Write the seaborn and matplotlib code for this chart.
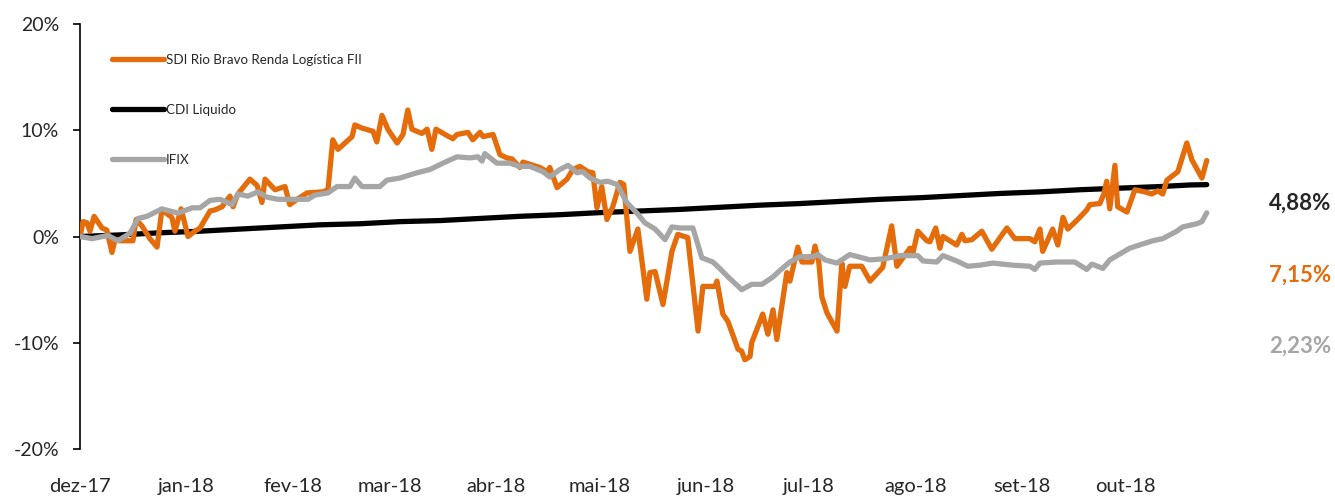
import pandas as pd
import matplotlib.pyplot as plt
import seaborn as sns
from matplotlib.lines import Line2D

start = pd.Timestamp("2017-12-01")

# SDI Rio Bravo Renda Logística FII (days since start, % return)
sdi_days = [0.0, 0.9, 2.0, 2.9, 4.1, 6.4, 7.8, 9.3, 10.2, 11.6, 15.4, 16.3, 18.0, 20.3, 22.4,
            23.8, 26.7, 27.6, 29.4, 31.4, 33.4, 34.9, 37.8, 39.2, 41.3, 43.6, 44.5, 45.9, 49.4,
            51.5, 52.9, 53.8, 56.7, 59.6, 61.0, 63.1, 66.0, 70.6, 72.1, 73.5, 75.0, 79.1, 79.9,
            82.0, 85.2, 86.3, 87.8, 89.5, 92.2, 93.9, 95.3, 96.5, 99.4, 100.9, 102.3, 103.5,
            106.7, 108.4, 109.6, 112.8, 114.2, 116.3, 117.2, 120.1, 122.1, 124.1, 125.6, 127.9,
            128.8, 130.8, 133.7, 135.8, 136.6, 138.7, 141.6, 143.3, 145.3, 147.7, 149.1, 150.3,
            151.7, 153.2, 154.9, 157.0, 158.1, 159.9, 162.2, 164.8, 165.7, 167.2, 169.5, 172.1,
            173.8, 176.7, 179.7, 181.1, 184.6, 185.2, 186.9, 188.4, 191.3, 192.4, 193.3, 194.8,
            195.3, 198.5, 200.0, 201.5, 202.6, 205.5, 206.4, 208.7, 209.9, 212.8, 213.7, 214.8,
            215.7, 217.2, 220.1, 221.5, 222.4, 223.8, 227.3, 229.7, 233.4, 236.0, 237.5, 241.3,
            242.2, 243.6, 246.2, 247.1, 248.8, 250.0, 250.9, 254.9, 256.4, 257.3, 259.3, 262.2,
            265.1, 269.5, 271.8, 276.2, 277.6, 279.1, 279.9, 282.8, 284.3, 285.8, 287.2, 290.1,
            292.7, 293.6, 296.5, 297.7, 298.5, 299.4, 300.9, 301.7, 304.4, 306.7, 309.6, 311.6,
            313.4, 314.8, 316.0, 319.2, 321.8, 323.3, 326.2, 327.6]
sdi_vals = [0.0, 1.4, 1.3, 0.5, 1.9, 0.8, 0.6, -1.5, -0.3, -0.4, -0.4, 1.6, 1.0, -0.2, -1.0,
            2.5, 1.8, 0.5, 2.6, 0.0, 0.5, 0.8, 2.4, 2.5, 2.8, 3.8, 2.8, 4.0, 5.4,
            4.8, 3.2, 5.4, 4.4, 4.7, 3.0, 3.5, 4.1, 4.2, 4.4, 9.1, 8.2, 9.4, 10.5,
            10.2, 9.9, 8.9, 11.4, 10.1, 8.8, 9.6, 11.9, 10.1, 9.7, 10.1, 8.2, 10.1,
            9.5, 9.2, 9.6, 9.8, 9.1, 9.8, 9.4, 9.6, 7.7, 7.4, 7.3, 6.5,
            7.0, 6.8, 6.5, 6.1, 6.5, 4.6, 5.4, 6.3, 6.6, 6.1, 6.0, 2.7,
            4.7, 1.6, 2.8, 5.1, 4.9, -1.4, 0.7, -5.9, -3.4, -3.3, -6.4, -1.4,
            0.2, -0.1, -8.9, -4.7, -4.7, -4.2, -7.3, -8.0, -10.6, -10.8, -11.6, -11.3,
            -10.0, -7.3, -9.2, -6.9, -9.7, -3.4, -4.2, -1.0, -2.4, -2.4, -0.9, -2.4,
            -5.7, -7.2, -8.9, -2.5, -4.7, -2.8, -2.8, -4.2, -2.9, 1.0, -2.8, -1.1,
            -1.5, 0.5, -0.4, -0.5, 0.8, -1.1, 0.0, -0.8, 0.2, -0.4, -0.3, 0.5,
            -1.2, 0.8, -0.2, -0.2, -0.5, 0.7, -1.4, 0.7, -0.8, 1.8, 0.7, 1.6,
            2.5, 3.0, 3.1, 4.0, 5.2, 2.6, 6.7, 2.8, 2.3, 4.4, 4.2, 4.0,
            4.3, 4.0, 5.3, 6.1, 8.8, 7.2, 5.5, 7.15]

# CDI Liquido
cdi_days = [0.0, 11.6, 23.3, 34.9, 46.5, 58.1, 69.8, 81.4, 93.0, 104.7, 116.3, 127.9, 139.5,
            151.2, 162.8, 174.4, 186.0, 197.7, 209.3, 220.9, 232.6, 244.2, 255.8, 267.4,
            279.1, 290.7, 302.3, 314.0, 322.7, 327.6]
cdi_vals = [0.0, 0.15, 0.35, 0.5, 0.7, 0.9, 1.1, 1.2, 1.4, 1.5, 1.7, 1.9, 2.05,
            2.25, 2.4, 2.55, 2.75, 2.95, 3.1, 3.3, 3.5, 3.65, 3.85, 4.05,
            4.2, 4.4, 4.55, 4.7, 4.85, 4.88]

# IFIX
ifix_days = [0.0, 3.5, 8.1, 11.0, 14.5, 16.9, 19.5, 23.8, 28.5, 32.6, 34.9, 37.8, 40.7, 44.2,
             45.9, 48.8, 51.7, 54.4, 57.6, 66.3, 68.3, 72.1, 74.7, 78.5, 79.9, 82.0, 87.2,
             89.2, 93.0, 98.0, 101.7, 105.5, 109.6, 113.4, 115.7, 116.9, 117.7, 121.2, 125.0,
             127.9, 130.8, 134.6, 136.6, 139.5, 141.9, 144.5, 146.2, 148.3, 151.2, 153.5,
             156.1, 159.0, 162.2, 164.2, 167.2, 170.1, 172.1, 174.4, 178.2, 180.8, 184.0,
             186.0, 188.4, 192.4, 195.3, 198.3, 201.5, 203.5, 206.4, 209.3, 213.1, 214.5,
             216.6, 220.1, 223.8, 229.7, 234.0, 238.4, 243.6, 245.1, 249.1, 250.9, 254.9,
             258.1, 261.6, 265.4, 271.2, 276.2, 277.6, 279.1, 284.0, 289.2, 292.7, 294.2,
             297.4, 299.4, 301.5, 305.2, 309.0, 311.9, 314.8, 318.9, 320.6, 324.7, 326.2, 327.6]
ifix_vals = [0.0, -0.2, 0.1, -0.4, 0.3, 1.7, 1.9, 2.6, 2.2, 2.7, 2.7, 3.4, 3.5, 3.0,
             4.0, 3.8, 4.2, 3.7, 3.5, 3.5, 3.9, 4.1, 4.7, 4.7, 5.5, 4.7, 4.7,
             5.3, 5.5, 6.0, 6.3, 6.9, 7.5, 7.4, 7.5, 7.1, 7.8, 6.9, 6.9,
             6.6, 6.6, 6.1, 5.6, 6.3, 6.7, 6.0, 6.1, 5.5, 5.1, 5.2,
             4.9, 3.2, 2.1, 1.3, 0.7, -0.3, 0.9, 0.8, 0.8, -2.0, -2.4,
             -3.0, -3.8, -5.0, -4.5, -4.5, -3.8, -3.2, -2.4, -1.9, -1.9, -1.7,
             -2.2, -2.5, -1.7, -2.2, -2.1, -1.8, -1.8, -2.3, -2.4, -1.8, -2.3,
             -2.8, -2.7, -2.5, -2.7, -2.8, -3.1, -2.5, -2.4, -2.4, -3.1, -2.6,
             -3.0, -2.2, -1.8, -1.1, -0.7, -0.4, -0.2, 0.5, 0.9, 1.2, 1.4, 2.23]

month_labels = ["dez-17", "jan-18", "fev-18", "mar-18", "abr-18", "mai-18",
                "jun-18", "jul-18", "ago-18", "set-18", "out-18"]
series_names = ["SDI Rio Bravo Renda Logística FII", "CDI Liquido", "IFIX"]
final_labels = ["4,88%", "7,15%", "2,23%"]

ORANGE = "#E46C0A"
BLACK = "#000000"
GRAY = "#A6A6A6"


def make_frame(days, vals, name):
    return pd.DataFrame({
        "date": start + pd.to_timedelta(days, unit="D"),
        "value": vals,
        "serie": name,
    })


sdi = make_frame(sdi_days, sdi_vals, series_names[0])
cdi = make_frame(cdi_days, cdi_vals, series_names[1])
ifix = make_frame(ifix_days, ifix_vals, series_names[2])

sns.set_style("white")
plt.rcParams["font.family"] = ["Lato", "DejaVu Sans"]

fig = plt.figure(figsize=(13.35, 4.97), dpi=100)
ax = fig.add_axes([80 / 1335, 48 / 497, 1135 / 1335, 425 / 497])

lw = 3.8
sns.lineplot(data=cdi, x="date", y="value", color=BLACK, linewidth=lw,
             estimator=None, ax=ax, zorder=2)
sns.lineplot(data=sdi, x="date", y="value", color=ORANGE, linewidth=lw,
             estimator=None, ax=ax, zorder=3)
sns.lineplot(data=ifix, x="date", y="value", color=GRAY, linewidth=lw,
             estimator=None, ax=ax, zorder=4)

ax.set_ylim(-20, 20)
ax.set_yticks([-20, -10, 0, 10, 20])
ax.set_yticklabels([f"{v}%" for v in [-20, -10, 0, 10, 20]])
ax.set_xlim(start, start + pd.Timedelta(days=330))
month_ticks = pd.date_range(start, periods=len(month_labels), freq="MS")
ax.set_xticks(month_ticks)
ax.set_xticklabels(month_labels)
ax.set_xlabel("")
ax.set_ylabel("")

for side in ["top", "right", "bottom"]:
    ax.spines[side].set_visible(False)
ax.spines["left"].set_color("#000000")
ax.spines["left"].set_linewidth(1.2)
ax.tick_params(axis="y", direction="out", length=5, width=1.2, color="#000000",
               labelsize=14, labelcolor="#262626", pad=10, left=True)
ax.tick_params(axis="x", length=0, labelsize=14.5, labelcolor="#262626", pad=21)

handles = [Line2D([], [], color=c, linewidth=lw) for c in [ORANGE, BLACK, GRAY]]
leg = ax.legend(handles, series_names, loc="upper left",
                bbox_to_anchor=(100 / 1335, 1 - 42 / 497), bbox_transform=fig.transFigure,
                frameon=False, fontsize=9.6, handlelength=3.9, handletextpad=0.15,
                labelspacing=2.85)
for t in leg.get_texts():
    t.set_color("#262626")

for label, color, y in zip(final_labels, [BLACK, ORANGE, GRAY], [203, 275, 346]):
    fig.text(1331 / 1335, 1 - y / 497, label, color="#262626" if color == BLACK else color,
             fontsize=16, fontweight="bold", ha="right", va="center")

fig.savefig("out.png", dpi=100)
plt.close(fig)
